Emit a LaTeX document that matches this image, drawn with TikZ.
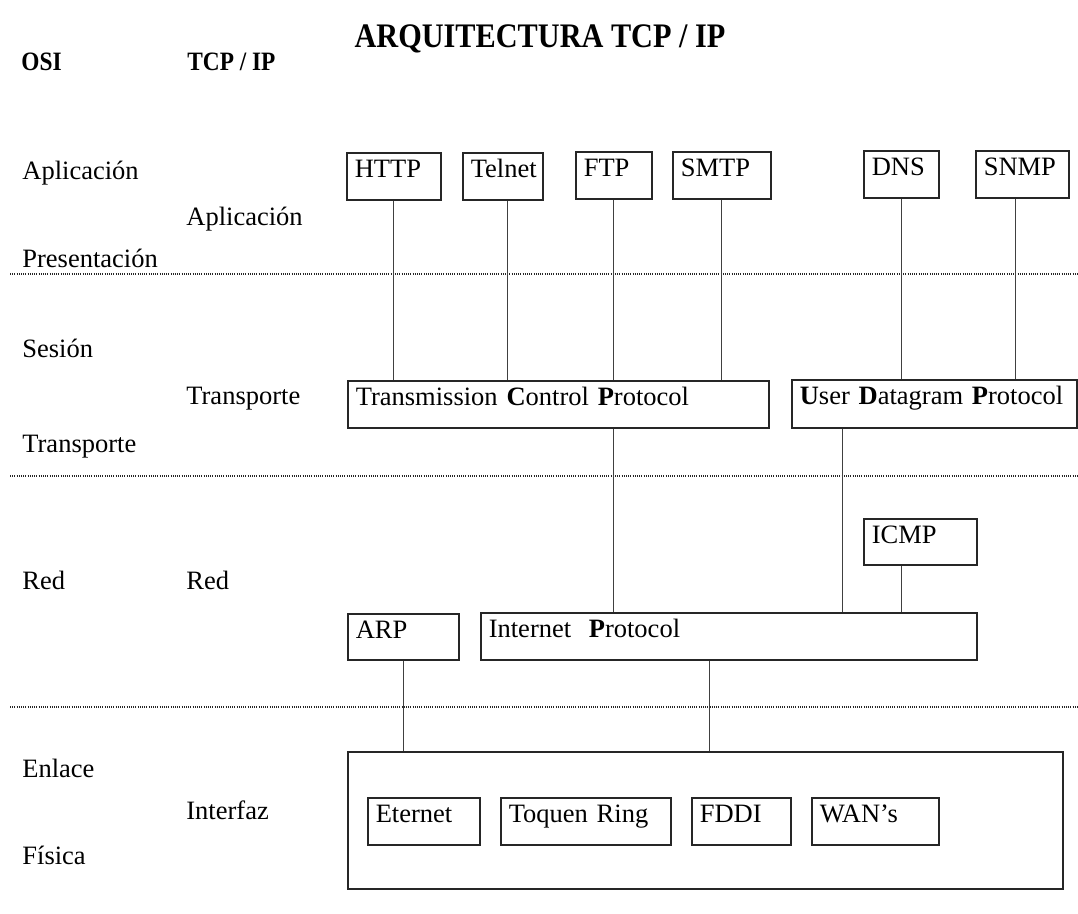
\documentclass[tikz,border=0pt]{standalone}
\usepackage{fontspec}
\setmainfont{Liberation Serif}
\newfontfamily\hdrfont[FakeStretch=0.88]{Liberation Serif}

\begin{document}
\begin{tikzpicture}[
  x=0.5pt, y=-0.5pt,
  font=\fontsize{13.25}{15}\selectfont,
  lbl/.style ={anchor=base west, inner sep=0pt},
  hdr/.style ={anchor=base west, inner sep=0pt, font=\fontsize{13.25}{15}\selectfont\hdrfont\bfseries},
  pbox/.style 2 args={draw=black!85, line width=0.8pt, anchor=north west, align=left,
                      inner xsep=4pt, inner ysep=2.5pt, text height=10pt, text width=#1, text depth=#2},
  link/.style={draw=black!75, line width=0.5pt},
  sep/.style ={draw=black!85, line width=1pt, dash pattern=on 0.5pt off 0.6pt},
]
\useasboundingbox (0,0) rectangle (1078,914);
% headings
\node[anchor=base, inner sep=0pt, font=\fontsize{17.2}{19}\selectfont\hdrfont\bfseries] (title) at (540,48) {ARQUITECTURA TCP / IP};
\node[hdr] (osi)   at (21,71)  {OSI};
\node[hdr] (tcpip) at (187,71) {TCP / IP};
% OSI layers
\node[lbl] (o-apl) at (22,180) {Aplicación};
\node[lbl] (o-pre) at (22,268) {Presentación};
\node[lbl] (o-ses) at (22,358) {Sesión};
\node[lbl] (o-tra) at (22,453) {Transporte};
\node[lbl] (o-red) at (22,590) {Red};
\node[lbl] (o-enl) at (22,778) {Enlace};
\node[lbl] (o-fis) at (22,865) {Física};
% TCP/IP layers
\node[lbl] (t-apl) at (186,226) {Aplicación};
\node[lbl] (t-tra) at (186,405) {Transporte};
\node[lbl] (t-red) at (186,590) {Red};
\node[lbl] (t-int) at (186,820) {Interfaz};
% layer borders
\draw[sep] (10,274) -- (1078,274);
\draw[sep] (10,476) -- (1078,476);
\draw[sep] (10,707) -- (1078,707);
% application protocols
\node[pbox={39pt}{8.5pt}]   (http)   at (346,152) {HTTP};
\node[pbox={32pt}{8.5pt}]   (telnet) at (462,152) {Telnet};
\node[pbox={30pt}{8.5pt}]   (ftp)    at (575,151) {FTP};
\node[pbox={41pt}{8.5pt}]   (smtp)   at (672,151) {SMTP};
\node[pbox={29.5pt}{8.5pt}] (dns)    at (863,150) {DNS};
\node[pbox={38.5pt}{8.5pt}] (snmp)   at (975,150) {SNMP};
% transport
\node[pbox={202.5pt}{8.5pt}] (tcp) at (347,380) {Transmission \textbf{C}ontrol \textbf{P}rotocol};
\node[pbox={134.5pt}{9pt}]   (udp) at (791,379) {\textbf{U}ser \textbf{D}atagram \textbf{P}rotocol};
% network
\node[pbox={48.5pt}{8pt}]  (icmp) at (863,518) {ICMP};
\node[pbox={47.5pt}{8pt}]  (arp)  at (347,613) {ARP};
\node[pbox={240pt}{8.5pt}] (ip)   at (480,612) {Internet\ \ \textbf{P}rotocol};
% interface
\node[pbox={349.5pt}{53.5pt}] (iface) at (347,751) {};
\node[pbox={48pt}{8.5pt}]   (eth)  at (367,797) {Eternet};
\node[pbox={77pt}{8.5pt}]   (tok)  at (500,797) {Toquen Ring};
\node[pbox={41.5pt}{8.5pt}] (fddi) at (691,797) {FDDI};
\node[pbox={55.5pt}{8.5pt}] (wan)  at (811,797) {WAN’s};
% links
\draw[link] (http) -- (http |- tcp.north);
\draw[link] ([xshift=2.5pt]telnet.south) coordinate (tel-s) -- (tel-s |- tcp.north);
\draw[link] (ftp) -- (ftp |- tcp.north);
\draw[link] (smtp) -- (smtp |- tcp.north);
\draw[link] (dns) -- (dns |- udp.north);
\draw[link] ([xshift=-3.25pt]snmp.south) coordinate (snmp-s) -- (snmp-s |- udp.north);
\draw[link] (tcp.south -| ftp) -- (ip.north -| ftp);
\draw[link] ([xshift=25.5pt]udp.south west) coordinate (udp-s) -- (udp-s |- ip.north);
\draw[link] (icmp.south -| dns) -- (ip.north -| dns);
\draw[link] (arp) -- (arp |- iface.north);
\draw[link] ([xshift=-9.5pt]ip.south) coordinate (ip-s) -- (ip-s |- iface.north);
\end{tikzpicture}
\end{document}
